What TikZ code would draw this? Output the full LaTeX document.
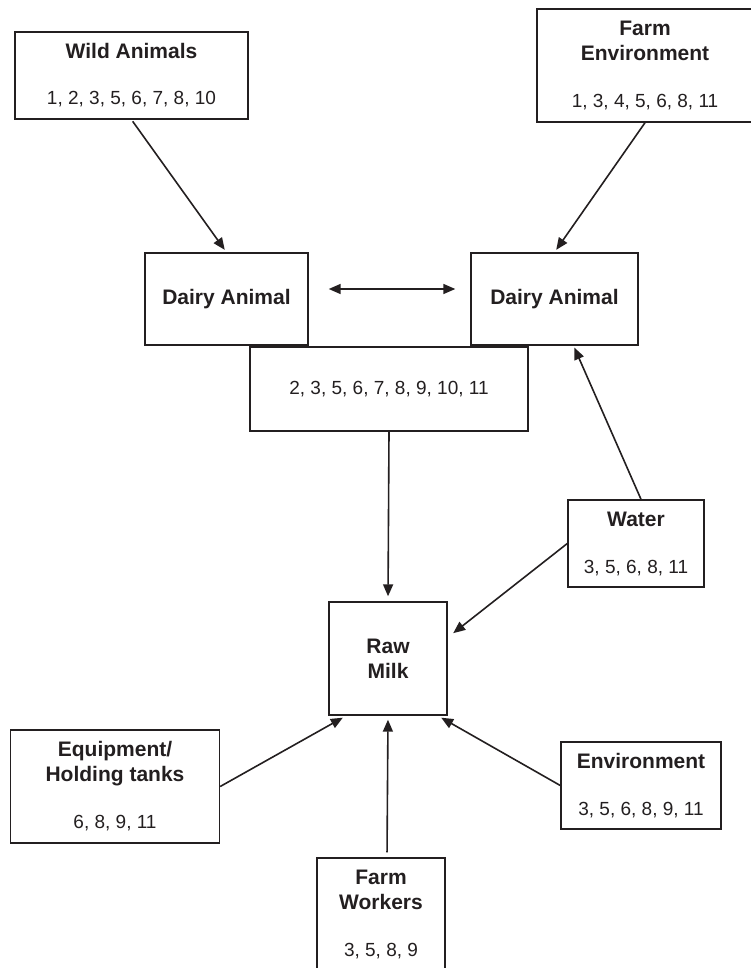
\documentclass[tikz,border=0pt]{standalone}
\usepackage{fontspec}
\setmainfont{Liberation Sans}
\usetikzlibrary{arrows.meta}
\definecolor{ink}{HTML}{231F20}

\newcommand{\numtext}{\fontsize{19}{25}\mdseries\selectfont}

\begin{document}
\begin{tikzpicture}[x=1pt,y=-1pt,
  >={Triangle[length=12pt,width=10pt]},
  box/.style={draw=ink,line width=1.4pt,rectangle,inner sep=0pt,align=center,
    text=ink,font=\fontsize{21}{25}\bfseries\selectfont},
  link/.style={->,draw=ink,fill=ink,line width=1.6pt,shorten >=3pt}]
\useasboundingbox (0,0) rectangle (751,968);

%boxes
\node[box,minimum width=233pt,minimum height=87pt] (wild) at (131.5,75.5)
  {Wild Animals\\[21pt]{\numtext 1, 2, 3, 5, 6, 7, 8, 10}};
\node[box,minimum width=216pt,minimum height=113pt] (farmenv) at (645,65.5)
  {Farm\\Environment\\[22pt]{\numtext 1, 3, 4, 5, 6, 8, 11}};
\node[box,minimum width=163pt,minimum height=92pt] (dairyL) at (226.5,299) {Dairy Animal};
\node[box,minimum width=167pt,minimum height=92pt] (dairyR) at (554.5,299) {Dairy Animal};
\node[box,minimum width=278pt,minimum height=84pt] (mid) at (389,389)
  {\numtext 2, 3, 5, 6, 7, 8, 9, 10, 11};
\node[box,minimum width=136pt,minimum height=87pt] (water) at (636,543.5)
  {Water\\[22pt]{\numtext 3, 5, 6, 8, 11}};
\node[box,minimum width=118pt,minimum height=113pt] (raw) at (388,658.5) {Raw\\Milk};
\node[box,minimum width=209pt,minimum height=113pt] (equip) at (115,786.5)
  {Equipment/\\Holding tanks\\[22pt]{\numtext 6, 8, 9, 11}};
\node[box,minimum width=160pt,minimum height=87pt] (env) at (641,785.5)
  {Environment\\[22pt]{\numtext 3, 5, 6, 8, 9, 11}};
\node[box,minimum width=128pt,minimum height=113pt] (workers) at (381,914.5)
  {Farm\\Workers\\[22pt]{\numtext 3, 5, 8, 9}};

%arrows
\draw[link,shorten <=2pt] (wild.south) -- (dairyL.north);
\draw[link] (farmenv.south) -- (dairyR.north);
\draw[link,<->,shorten <=20pt,shorten >=15pt] ([yshift=10pt]dairyL.east) -- ([yshift=10pt]dairyR.west);
\draw[link,shorten >=5pt] (mid.south) -- (raw.north);
\draw[link,shorten >=2pt] ([xshift=5pt]water.north) -- ([xshift=19pt]dairyR.south);
\draw[link,shorten >=7pt] (water.west) -- ([yshift=21pt]raw.east);
\draw[link,shorten >=4pt] (equip.east) -- ([xshift=18pt]raw.south west);
\draw[link,shorten <=5pt,shorten >=4pt] ([xshift=6pt]workers.north) -- (raw.south);
\draw[link,shorten >=4pt] (env.west) -- ([xshift=-10pt]raw.south east);
\end{tikzpicture}
\end{document}
